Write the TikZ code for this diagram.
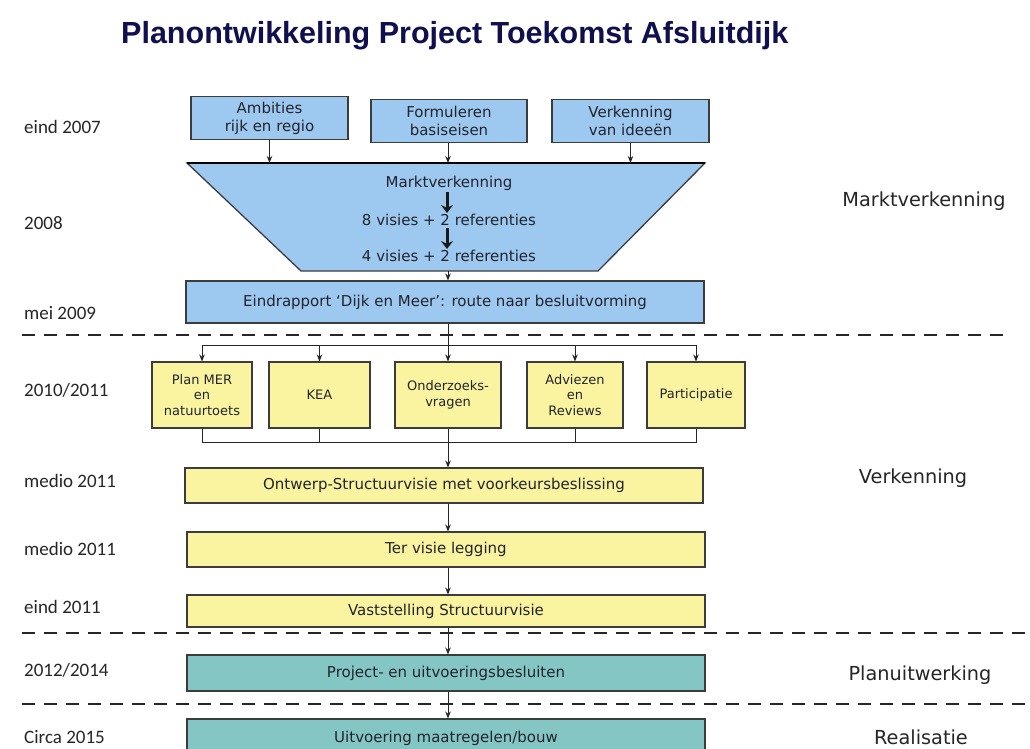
\documentclass[tikz,border=0pt]{standalone}
\usepackage{fontspec}
\setmainfont{DejaVu Sans}
\newfontfamily\titlefont{Liberation Sans}
\newfontfamily\datefont{Carlito}
\usetikzlibrary{arrows.meta}
\definecolor{boxblue}{RGB}{157,201,240}
\definecolor{boxyellow}{RGB}{250,244,160}
\definecolor{boxteal}{RGB}{132,198,196}
\definecolor{titlenavy}{RGB}{16,16,78}
\definecolor{txt}{RGB}{35,35,45}
\definecolor{edge}{RGB}{60,60,60}
\begin{document}
\begin{tikzpicture}[x=1pt,y=-1pt,
  box/.style={draw=edge, line width=1.1pt, text=txt, inner sep=0pt, align=center,
    font=\fontsize{15}{18}\selectfont},
  bluebox/.style={box, fill=boxblue},
  yelbox/.style={box, fill=boxyellow},
  smallbox/.style={box, fill=boxyellow, minimum height=66pt,
    font=\fontsize{13}{15.5}\selectfont},
  tealbox/.style={box, fill=boxteal},
  arr/.style={-{Stealth[length=7pt,width=5.5pt]}, line width=1pt, draw=black!85},
  thickarr/.style={-{Stealth[length=8pt,width=12pt,inset=3pt]}, line width=3pt, draw=black!90},
  conn/.style={line width=1pt, draw=black!85},
  phase/.style={line width=1.8pt, dash pattern=on 13pt off 9pt, draw=black!85},
  datelbl/.style={anchor=west, inner sep=0pt, text=black!85, font=\datefont\fontsize{19}{21}\selectfont},
  phaselbl/.style={text=black!85, inner sep=0pt, font=\fontsize{19.3}{21}\selectfont},
  funneltxt/.style={text=txt, inner sep=0pt, font=\fontsize{15}{18}\selectfont}
]
\useasboundingbox (0,0) rectangle (1030,749);
\fill[white] (0,0) rectangle (1030,749);

\coordinate (dist) at (448,345);
\coordinate (coll) at (448,442);
\coordinate (ftop) at (449,163);
\coordinate (fbot) at (449,271);

% title
\node[anchor=west, text=titlenavy, inner sep=0pt,
  font=\titlefont\bfseries\fontsize{30.5}{33}\selectfont] (title) at (121,36)
  {Planontwikkeling Project Toekomst Afsluitdijk};

% phase separators
\draw[phase] (22,335) -- (1003,335);
\draw[phase] (22,633) -- (1030,633);
\draw[phase] (22,704) -- (1030,704);

% date labels
\node[datelbl] (d1) at (24,127) {eind 2007};
\node[datelbl] (d2) at (24,223) {2008};
\node[datelbl] (d3) at (24,313) {mei 2009};
\node[datelbl] (d4) at (24,390) {2010/2011};
\node[datelbl] (d5) at (24,481) {medio 2011};
\node[datelbl] (d6) at (24,549) {medio 2011};
\node[datelbl] (d7) at (24,607) {eind 2011};
\node[datelbl] (d8) at (24,670) {2012/2014};
\node[datelbl] (d9) at (24,737) {Circa 2015};

% phase labels
\node[phaselbl] (p1) at (924,201) {Marktverkenning};
\node[phaselbl] (p2) at (913,478) {Verkenning};
\node[phaselbl] (p3) at (920,675) {Planuitwerking};
\node[phaselbl] (p4) at (921,737) {Realisatie};

% top boxes
\node[bluebox, minimum width=157pt, minimum height=43pt] (amb) at (269.5,118) {Ambities\\rijk en regio};
\node[bluebox, minimum width=156pt, minimum height=43pt] (form) at (449,121) {Formuleren\\basiseisen};
\node[bluebox, minimum width=157pt, minimum height=43pt] (verk) at (630.5,121) {Verkenning\\van ideeën};

% funnel
\fill[boxblue] (187,163) -- (705,163) -- (598,271) -- (301,271) -- cycle;
\draw[edge, line width=1.3pt, line join=miter] (187,163) -- (705,163) -- (598,271) -- (301,271) -- cycle;
\draw[black, line width=2pt] (187,163) -- (705,163);
\node[funneltxt] (mk) at (449,183) {Marktverkenning};
\node[funneltxt] (v8) at (449,220) {8 visies + 2 referenties};
\node[funneltxt] (v4) at (449,256) {4 visies + 2 referenties};
\draw[thickarr] ([xshift=-2pt,yshift=-2pt]mk.south) -- ([xshift=-2pt,yshift=1pt]v8.north);
\draw[thickarr] ([xshift=-2pt,yshift=-2pt]v8.south) -- ([xshift=-2pt,yshift=1pt]v4.north);

\draw[arr] (amb.south) -- (amb.south |- ftop);
\draw[arr] ([xshift=-1pt]form.south) -- ([xshift=-1pt]form.south |- ftop);
\draw[arr] (verk.south) -- (verk.south |- ftop);

% Eindrapport
\node[bluebox, minimum width=518pt, minimum height=42pt] (eind) at (445,302)
  {Eindrapport ‘Dijk en Meer’: route naar besluitvorming};
\draw[arr] (fbot -| dist) -- (eind.north -| dist);

% distribution
\node[smallbox, minimum width=100pt] (pm) at (202,395) {Plan MER\\en\\natuurtoets};
\node[smallbox, minimum width=101pt] (kea) at (319.5,395) {KEA};
\node[smallbox, minimum width=106pt] (ond) at (448,395) {Onderzoeks-\\vragen};
\node[smallbox, minimum width=96pt] (adv) at (575,395) {Adviezen\\en\\Reviews};
\node[smallbox, minimum width=98pt] (part) at (696,395) {Participatie};

\draw[arr] (eind.south -| dist) -- (ond.north);
\draw[arr] (dist) -| (pm.north);
\draw[arr] (dist) -| (kea.north);
\draw[arr] (dist) -| (adv.north);
\draw[arr] (dist) -| (part.north);

\draw[conn] (pm.south) |- (coll);
\draw[conn] (kea.south) |- (coll);
\draw[conn] (adv.south) |- (coll);
\draw[conn] (part.south) |- (coll);

% lower chain
\node[yelbox, minimum width=518pt, minimum height=35pt] (ontw) at (444,485.5)
  {Ontwerp-Structuurvisie met voorkeursbeslissing};
\node[yelbox, minimum width=518pt, minimum height=35pt] (ter) at (446,549.5)
  {Ter visie legging};
\node[yelbox, minimum width=518pt, minimum height=32pt] (vast) at (446,611)
  {Vaststelling Structuurvisie};
\node[tealbox, minimum width=518pt, minimum height=36pt] (proj) at (446,673)
  {Project- en uitvoeringsbesluiten};
\node[tealbox, minimum width=518pt, minimum height=38pt] (uitv) at (446,738)
  {Uitvoering maatregelen/bouw};

\draw[arr] (ond.south) -- (ontw.north -| ond.south);
\draw[arr] (ontw.south -| dist) -- (ter.north -| dist);
\draw[arr] (ter.south -| dist) -- (vast.north -| dist);
\draw[arr] (vast.south -| dist) -- (proj.north -| dist);
\draw[arr] (proj.south -| dist) -- (uitv.north -| dist);
\end{tikzpicture}
\end{document}
